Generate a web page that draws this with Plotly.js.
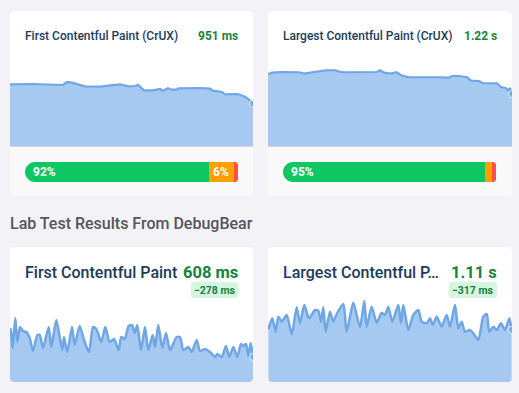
<!DOCTYPE html>
<html>
<head>
<meta charset="utf-8">
<script src="https://cdn.plot.ly/plotly-3.0.1.min.js"></script>
<style>
  html, body { margin: 0; padding: 0; background: #f3f2f6; }
  #chart { width: 519px; height: 393px; }
</style>
</head>
<body>
<div id="chart"></div>
<script>
// ---------- DATA ----------
// CrUX First Contentful Paint (p75, ms) by day
const fcpCruxDay = [0,23,53,57,62,75,90,110,118,125,128,134,143,150,153,158,162,167,168,190,200,203,212,215,227,230,235,238,242,243];
const fcpCruxMs  = [1147,1150,1140,1170,1163,1127,1123,1147,1127,1130,1143,1087,1087,1100,1083,1107,1093,1093,1107,1110,1103,1083,1070,1047,1050,1043,1023,997,970,951];

// CrUX Largest Contentful Paint (p75, ms) by day
const lcpCruxDay = [0,4,14,31,36,44,58,68,71,76,109,112,116,123,128,130,134,141,158,168,171,181,184,191,199,203,211,215,229,233,238,240,242,244];
const lcpCruxMs  = [1516,1540,1550,1546,1525,1540,1576,1576,1555,1546,1550,1576,1540,1525,1546,1531,1495,1471,1471,1480,1471,1465,1490,1490,1471,1420,1415,1381,1381,1325,1306,1276,1310,1220];

// CrUX distribution (good / needs improvement / poor, %)
const distLabels = ['good', 'needs improvement', 'poor'];
const fcpDist = [92, 6, 2];
const lcpDist = [95, 3, 2];

// Lab test runs (DebugBear), First Contentful Paint (ms)
const fcpLabRun = [0,0.7,2.7,5.3,7.3,10,12.7,16.3,19.7,23,27.3,29.7,33,38.7,41.3,46.3,49.7,52.3,54,57.3,62,64.7,69.7,74,79,83,86.3,91.3,95.3,99.7,104,108.7,111.3,114.7,118.7,122,124.7,127.3,131,135,138.3,142.7,145,148.3,152.3,156,160,166.7,170,173.3,178.3,181.7,186.7,190,195,200,205,207.3,211.7,216,219.3,223.3,227.3,231,233.3,236,238.3,240.7,243];
const fcpLabMs  = [990,1007,646,1216,760,1045,969,950,836,589,893,893,646,1045,665,1178,855,608,855,570,1045,703,1064,798,570,1045,1007,760,1045,760,817,608,855,817,1064,1083,931,1083,608,1045,608,893,665,1083,646,931,608,855,855,608,665,570,798,589,627,570,475,532,475,684,475,665,475,722,684,722,494,741,475];

// Lab test runs (DebugBear), Largest Contentful Paint (ms)
const lcpLabRun = [0.3,4.3,7.7,10.3,13.7,18.7,23.7,28.7,32,36.3,41,47,50.3,53,55.3,57.7,62,65.3,68.7,75.3,78.7,85.3,92,96.3,98.7,103.7,108.7,113.7,117,120.3,124.3,130.3,133,135.3,140.3,145.3,150.3,153.7,158.7,162,164.7,168.7,173.7,178.7,182,187,190.3,193.7,197,202,205.3,210.3,215.3,218.7,221.3,225.3,228.7,233,237,241.3,243.7];
const lcpLabMs  = [1125,1360,1074,1394,1287,1430,1018,1595,1253,1644,1360,1537,1522,1287,1595,1074,1501,1287,1452,1665,1074,1693,1168,1729,1181,1608,1266,1480,1430,1608,1287,1644,1253,1644,1110,1430,1537,1287,1253,1360,1217,1394,1181,1430,1181,1644,1146,1287,1074,1110,1040,897,1394,1452,1074,1181,1110,1253,1110,1360,1110];

// Text
const cruxTitles = ['First Contentful Paint (CrUX)', 'Largest Contentful Paint (CrUX)'];
const cruxValues = ['951 ms', '1.22 s'];
const sectionTitle = 'Lab Test Results From DebugBear';
const labTitles = ['First Contentful Paint', 'Largest Contentful P\u2026'];
const labValues = ['608 ms', '1.11 s'];
const labDeltas = ['\u2212278 ms', '\u2212317 ms'];

// ---------- LAYOUT HELPERS ----------
const W = 519, H = 393;
const X = px => px / W;
const Y = py => 1 - py / H;
const K = 0.5523;
const pt = (x, y) => `${X(x).toFixed(5)},${Y(y).toFixed(5)}`;

function roundRect(x0, y0, x1, y1, rt, rb) {
  let d = `M${pt(x0 + rt, y0)} L${pt(x1 - rt, y0)}`;
  if (rt) d += ` C${pt(x1 - rt + K * rt, y0)} ${pt(x1, y0 + rt - K * rt)} ${pt(x1, y0 + rt)}`;
  d += ` L${pt(x1, y1 - rb)}`;
  if (rb) d += ` C${pt(x1, y1 - rb + K * rb)} ${pt(x1 - rb + K * rb, y1)} ${pt(x1 - rb, y1)}`;
  d += ` L${pt(x0 + rb, y1)}`;
  if (rb) d += ` C${pt(x0 + rb - K * rb, y1)} ${pt(x0, y1 - rb + K * rb)} ${pt(x0, y1 - rb)}`;
  d += ` L${pt(x0, y0 + rt)}`;
  if (rt) d += ` C${pt(x0, y0 + rt - K * rt)} ${pt(x0 + rt - K * rt, y0)} ${pt(x0 + rt, y0)}`;
  return d + ' Z';
}
function cornerMask(x0, y0, r, sx, sy) {
  return `M${pt(x0, y0)} L${pt(x0 + sx * r, y0)} C${pt(x0 + sx * r * (1 - K), y0)} ${pt(x0, y0 + sy * r * (1 - K))} ${pt(x0, y0 + sy * r)} Z`;
}
const BG = '#f3f2f6', CARD = '#ffffff', CARD2 = '#f9f9fa';
const LINE = '#6fa6e6', FILL = '#a6c9f2';
const NAVY = '#1b3a5b', GREEN = '#15843c';
const FONT = 'Roboto, "Open Sans", sans-serif';

const shapes = [];
const fillShape = (path, color, layer) => shapes.push({type: 'path', path, xref: 'paper', yref: 'paper', fillcolor: color, line: {width: 0}, layer: layer || 'below'});

// cards
const cols = [[10, 253], [268, 512]];
cols.forEach(([a, b]) => {
  fillShape(roundRect(a, 11, b, 146, 4, 0), CARD);
  fillShape(roundRect(a, 146, b, 196, 0, 4), CARD2);
  fillShape(roundRect(a, 247, b, 382, 4, 4), CARD);
  shapes.push({type: 'line', xref: 'paper', yref: 'paper', x0: X(a), x1: X(b), y0: Y(146.5), y1: Y(146.5), line: {color: '#d3d8e0', width: 1.2}, layer: 'above'});
  // lab chart bottom corners
  fillShape(cornerMask(a, 382, 4, 1, -1), BG, 'above');
  fillShape(cornerMask(b, 382, 4, -1, -1), BG, 'above');
});

// distribution bars positions
const bars = [[25, 238], [283, 496]];
const barTop = 162, barBot = 182;
bars.forEach(([a, b]) => {
  fillShape(cornerMask(a, barTop, 10, 1, 1), CARD2, 'above');
  fillShape(cornerMask(a, barBot, 10, 1, -1), CARD2, 'above');
  fillShape(cornerMask(b, barTop, 3, -1, 1), CARD2, 'above');
  fillShape(cornerMask(b, barBot, 3, -1, -1), CARD2, 'above');
});

// badges
const badgeBoxes = [[191, 238], [449, 497]];
badgeBoxes.forEach(([a, b]) => fillShape(roundRect(a, 282, b, 298, 2.5, 2.5), '#d5f5e1', 'above'));

// ---------- TRACES ----------
const traces = [];
function area(x, y, ax) {
  traces.push({
    type: 'scatter', mode: 'lines+markers', x, y, xaxis: 'x' + ax, yaxis: 'y' + ax,
    fill: 'tozeroy', fillcolor: FILL,
    line: {color: LINE, width: ax > 2 ? 2.5 : 2.2, shape: ax > 2 ? 'spline' : 'linear', smoothing: 0.6},
    marker: {size: y.map((v, i) => i === y.length - 1 ? 7 : 0), color: LINE},
    hoverinfo: 'skip'
  });
}
area(fcpCruxDay, fcpCruxMs, '');
area(lcpCruxDay, lcpCruxMs, 2);
area(fcpLabRun, fcpLabMs, 3);
area(lcpLabRun, lcpLabMs, 4);
traces[0].xaxis = 'x'; traces[0].yaxis = 'y';

const distColors = ['#0fc762', '#ff9f00', '#ff4e42'];
const MIN_LABEL_PX = 25;  // minimum segment width for a labelled segment
const annotations = [];
function distBar(dist, ax, [a, b]) {
  const minShare = MIN_LABEL_PX / (b - a) * 100;
  const labelled = dist.map((v, i) => i > 0 && v >= 5);
  const shown = dist.map((v, i) => labelled[i] ? Math.max(v, minShare) : v);
  shown[0] = 100 - shown.slice(1).reduce((s, v) => s + v, 0);
  let start = 0;
  shown.forEach((w, i) => {
    traces.push({type: 'bar', orientation: 'h', y: [0], x: [w], width: 1,
      xaxis: 'x' + ax, yaxis: 'y' + ax, marker: {color: distColors[i], line: {width: 0}},
      name: distLabels[i], hoverinfo: 'skip'});
    if (i === 0 || labelled[i]) {
      annotations.push({xref: 'x' + ax, yref: 'y' + ax, x: i === 0 ? 0 : start + w / 2, y: 0,
        xanchor: i === 0 ? 'left' : 'center', xshift: i === 0 ? 8 : 0, yanchor: 'middle',
        text: `<b>${dist[i]}%</b>`, showarrow: false, borderpad: 0, borderwidth: 0,
        font: {family: FONT, size: 12, color: '#ffffff'}});
    }
    start += w;
  });
}
distBar(fcpDist, 5, bars[0]);
distBar(lcpDist, 6, bars[1]);

// ---------- TEXT ----------
const txt = (x, y, text, size, color, anchor, weight) => annotations.push({
  xref: 'paper', yref: 'paper', x: X(x), y: Y(y), text, showarrow: false,
  xanchor: anchor, yanchor: 'middle', borderpad: 0, borderwidth: 0,
  font: {family: FONT, size, color, weight: weight || 'normal'}});

cols.forEach(([a, b], i) => {
  txt(a + 15, 36, cruxTitles[i], 12, NAVY, 'left', 500);
  txt(b - 15, 36, cruxValues[i], 12, GREEN, 'right', 'bold');
  txt(a + 15, 272, labTitles[i], 16, NAVY, 'left', 500);
  txt(b - 15, 272, labValues[i], 16.5, GREEN, 'right', 'bold');
  txt((badgeBoxes[i][0] + badgeBoxes[i][1]) / 2, 290, labDeltas[i], 10.5, GREEN, 'center', 'bold');
});
txt(10, 223, sectionTitle, 16, '#55555b', 'left', 500);

// ---------- AXES ----------
const hid = (domain, range) => ({visible: false, domain, range, fixedrange: true, showgrid: false, zeroline: false});
const layout = {
  width: W, height: H, margin: {l: 0, r: 0, t: 0, b: 0},
  paper_bgcolor: BG, plot_bgcolor: 'rgba(0,0,0,0)', showlegend: false,
  barmode: 'stack', bargap: 0,
  xaxis:  hid([X(10), X(253)], [0, 243]),
  yaxis:  hid([Y(146), Y(56)], [530, 1430]),
  xaxis2: hid([X(268), X(512)], [0, 244]),
  yaxis2: hid([Y(146), Y(56)], [440, 1790]),
  xaxis3: hid([X(10), X(253)], [0, 243]),
  yaxis3: hid([Y(382), Y(296)], [0, 86 * 19]),
  xaxis4: hid([X(268), X(512)], [0, 244]),
  yaxis4: hid([Y(382), Y(296)], [0, 86 * 21.35]),
  xaxis5: hid([X(25), X(238)], [0, 100]),
  yaxis5: hid([Y(182), Y(162)], [-0.5, 0.5]),
  xaxis6: hid([X(283), X(496)], [0, 100]),
  yaxis6: hid([Y(182), Y(162)], [-0.5, 0.5]),
  shapes, annotations
};
layout.xaxis.anchor = 'y'; layout.yaxis.anchor = 'x';
for (let i = 2; i <= 6; i++) { layout['xaxis' + i].anchor = 'y' + i; layout['yaxis' + i].anchor = 'x' + i; }

Plotly.newPlot('chart', traces, layout, {displayModeBar: false, staticPlot: true});
</script>
</body>
</html>
